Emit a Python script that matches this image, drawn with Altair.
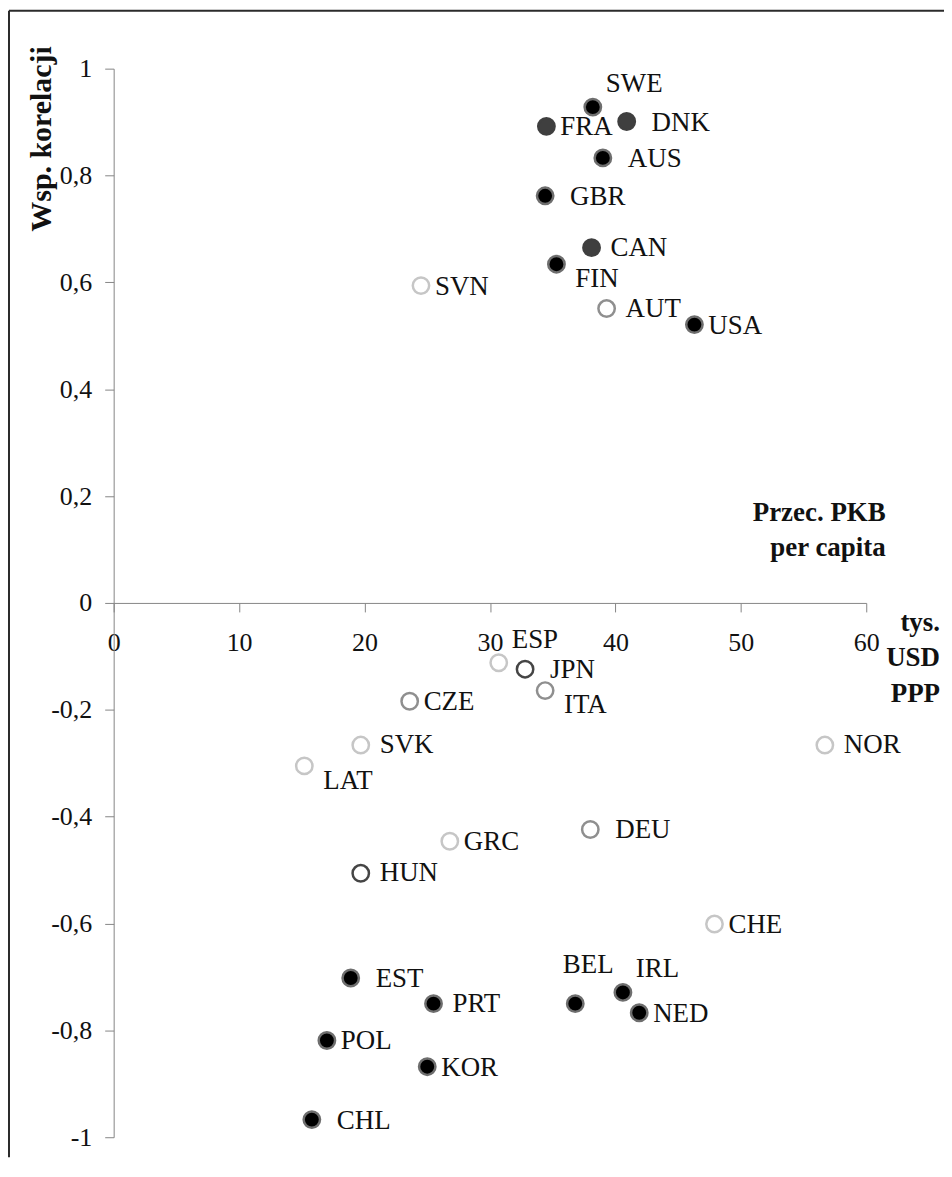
import altair as alt
import pandas as pd

# ---- data ----
kraje = ["SWE", "FRA", "DNK", "AUS", "GBR", "CAN", "FIN", "AUT", "USA", "SVN",
         "ESP", "JPN", "ITA", "CZE", "SVK", "LAT", "NOR", "DEU", "GRC", "HUN",
         "CHE", "EST", "PRT", "BEL", "IRL", "NED", "POL", "KOR", "CHL"]
pkb = [38.2, 34.5, 40.9, 39.0, 34.4, 38.1, 35.3, 39.3, 46.3, 24.5,
       30.7, 32.8, 34.4, 23.6, 19.7, 15.2, 56.7, 38.0, 26.8, 19.7,
       47.9, 18.9, 25.5, 36.8, 40.6, 41.9, 17.0, 25.0, 15.8]
korelacja = [0.928, 0.892, 0.901, 0.833, 0.762, 0.665, 0.634, 0.551, 0.521, 0.594,
             -0.112, -0.124, -0.164, -0.184, -0.266, -0.305, -0.266, -0.424, -0.446, -0.506,
             -0.601, -0.702, -0.750, -0.750, -0.729, -0.767, -0.819, -0.868, -0.967]
grupa = ["czarny", "ciemny", "ciemny", "czarny", "czarny", "ciemny", "czarny", "pusty_sredni", "czarny", "pusty_jasny",
         "pusty_jasny", "pusty_ciemny", "pusty_sredni", "pusty_sredni", "pusty_jasny", "pusty_jasny", "pusty_jasny", "pusty_sredni", "pusty_jasny", "pusty_ciemny",
         "pusty_jasny", "czarny", "czarny", "czarny", "czarny", "czarny", "czarny", "czarny", "czarny"]
strona = ["NE", "Eb", "Ed", "Ed", "Ed", "E", "SE", "E", "Eb", "Eb",
          "NE", "Ed", "SE", "Eb", "E", "SE", "E", "Ed", "Eb", "E",
          "Eb", "Ed", "E", "N", "NE", "Eb", "Eb", "Eb", "Ed"]

x_ticks = [0, 10, 20, 30, 40, 50, 60]
y_ticks = [-1, -0.8, -0.6, -0.4, -0.2, 0, 0.2, 0.4, 0.6, 0.8, 1]

df = pd.DataFrame({"kraj": kraje, "pkb": pkb, "korelacja": korelacja,
                   "grupa": grupa, "strona": strona})

FONT = "Liberation Serif, Times New Roman, serif"
AXIS_GRAY = "#868686"
W, H = 755, 1072
PAD = {"left": 106, "top": 59, "right": 78, "bottom": 20}

xs = alt.Scale(domain=[0, 60], nice=False, zero=False)
ys = alt.Scale(domain=[-1, 1], nice=False, zero=False)

x_axis = alt.Axis(values=x_ticks, offset=-H / 2, grid=False, orient="bottom", labelFlush=False,
                  domainColor=AXIS_GRAY, tickColor=AXIS_GRAY, tickSize=9,
                  labelFont=FONT, labelFontSize=26, labelColor="#111", labelPadding=18,
                  title=["Przec. PKB", "per capita"], titleFont=FONT, titleFontSize=27,
                  titleFontWeight="bold", titleColor="#111", titleAlign="right",
                  titleBaseline="alphabetic", titleX=774, titleY=-83, titleLineHeight=35)
y_axis = alt.Axis(values=y_ticks, grid=False, labelFlush=False,
                  labelExpr="replace(toString(round(datum.value*10)/10), '.', ',')",
                  domainColor=AXIS_GRAY, tickColor=AXIS_GRAY, tickSize=9,
                  labelFont=FONT, labelFontSize=26, labelColor="#111", labelPadding=13,
                  title="Wsp. korelacji", titleFont=FONT, titleFontSize=30,
                  titleFontWeight="bold", titleColor="#111", titleAngle=270,
                  titleAlign="center", titleBaseline="middle", titleX=-72, titleY=70)

grupy = ["czarny", "ciemny", "pusty_jasny", "pusty_sredni", "pusty_ciemny"]
points = alt.Chart(df).mark_circle(size=270, strokeWidth=2.5, opacity=1).encode(
    x=alt.X("pkb:Q", scale=xs, axis=x_axis),
    y=alt.Y("korelacja:Q", scale=ys, axis=y_axis),
    fill=alt.Fill("grupa:N", scale=alt.Scale(domain=grupy,
                  range=["#000000", "#3f3f3f", "#ffffff", "#ffffff", "#ffffff"]), legend=None),
    stroke=alt.Stroke("grupa:N", scale=alt.Scale(domain=grupy,
                      range=["#6e6e6e", "#3f3f3f", "#c6c6c6", "#8f8f8f", "#454545"]), legend=None),
)

offsets = {"Eb": (14, 1, "left"), "E": (19, 0, "left"), "Ed": (25, 1, "left"),
           "NE": (13, -23, "left"), "SE": (19, 15, "left"), "N": (13, -39, "center")}

layers = [points]
for side, (dx, dy, al) in offsets.items():
    t = alt.Chart(df).transform_filter(alt.datum.strona == side).mark_text(
        font=FONT, fontSize=27, color="#111", align=al, baseline="middle", dx=dx, dy=dy
    ).encode(
        x=alt.X("pkb:Q", scale=xs),
        y=alt.Y("korelacja:Q", scale=ys),
        text="kraj:N",
    )
    layers.append(t)

frame_top = alt.Chart(alt.Data(values=[{"r": 1}])).mark_rule(color="#2b2b2b", strokeWidth=2).encode(
    x=alt.value(-PAD["left"] + 1), x2=alt.value(W + PAD["right"]), y=alt.value(-PAD["top"] + 1))
frame_left = alt.Chart(alt.Data(values=[{"r": 1}])).mark_rule(color="#2b2b2b", strokeWidth=2).encode(
    x=alt.value(-PAD["left"] + 1), y=alt.value(-PAD["top"] + 1), y2=alt.value(H + PAD["bottom"]))
layers += [frame_top, frame_left]

unit_title = alt.TitleParams(
    text=["tys.", "USD", "PPP"], anchor="end", frame="group", orient="top",
    align="right", baseline="bottom", offset=0, dx=74, dy=727,
    font=FONT, fontSize=27, fontWeight="bold", color="#111", lineHeight=35.5,
)

chart = alt.layer(*layers).properties(
    width=W, height=H,
    title=unit_title,
    autosize=alt.AutoSizeParams(type="none"),
    padding=PAD,
    background="white",
).configure_view(stroke=None)

chart.save("out.html", embed_options={"renderer": "svg", "actions": False})
